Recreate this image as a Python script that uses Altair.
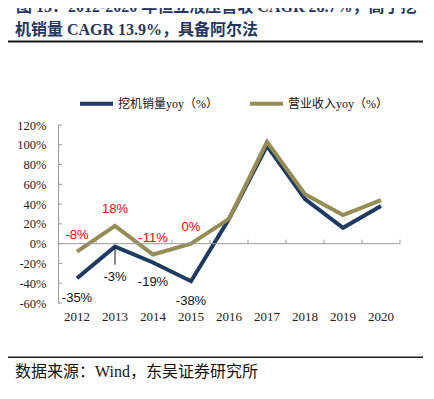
import altair as alt
import pandas as pd
import json

# ---- data ----
years = ["2012", "2013", "2014", "2015", "2016", "2017", "2018", "2019", "2020"]
excavator_yoy = [-35, -3, -19, -38, 25, 99, 45, 16, 38]
revenue_yoy = [-8, 18, -11, 0, 25, 103, 50, 29, 44]
series_names = ["挖机销量yoy（%）", "营业收入yoy（%）"]
series_colors = ["#1f3a60", "#948b55"]
y_ticks = [-60, -40, -20, 0, 20, 40, 60, 80, 100, 120]
labeled_years = ["2012", "2013", "2014", "2015"]
title_lines = ["图 13：2012-2020 年恒立液压营收 CAGR 28.7%，高于挖",
               "机销量 CAGR 13.9%，具备阿尔法"]
source_text = "数据来源：Wind，东吴证券研究所"

SERIF = "Liberation Serif, Noto Sans CJK SC"
SANS = "Liberation Sans, Arial, sans-serif"
W, H = 342, 178

df = pd.DataFrame({
    "year": years * 2,
    "series": [series_names[0]] * len(years) + [series_names[1]] * len(years),
    "value": excavator_yoy + revenue_yoy,
})
df["label"] = df["value"].astype(int).astype(str) + "%"

xscale = alt.Scale(type="band", paddingInner=0, paddingOuter=0, domain=years)
yscale = alt.Scale(domain=[-60, 120], nice=False, zero=False)

x_axis = alt.Axis(title=None, labelAngle=0, ticks=False, domain=False,
                  labelFont=SERIF, labelFontSize=13, labelColor="#222",
                  labelPadding=7)
y_axis = alt.Axis(title=None, values=y_ticks, labelExpr="datum.value + '%'",
                  ticks=False, grid=False, domainColor="#999",
                  labelFont=SERIF, labelFontSize=12.5, labelColor="#222",
                  labelPadding=12)

x_enc = alt.X("year:O", bandPosition=0.5, scale=xscale, axis=x_axis)
y_enc = alt.Y("value:Q", scale=yscale, axis=y_axis)

base = alt.Chart(df)

tick_df = pd.DataFrame({"year": years, "value": [0] * len(years)})
ytick_df = pd.DataFrame({"value": y_ticks})

zero_line = alt.Chart(tick_df.head(1)).mark_rule(color="#999", strokeWidth=1).encode(
    x=alt.value(0), x2=alt.value(W), y=y_enc)

x_ticks = alt.Chart(tick_df).mark_rule(color="#999", strokeWidth=1, y2Offset=-4).encode(
    x=alt.X("year:O", bandPosition=1, scale=xscale, axis=x_axis),
    y=y_enc, y2="value:Q")

y_tick_marks = alt.Chart(ytick_df).mark_rule(color="#999", strokeWidth=1).encode(
    x=alt.value(0), x2=alt.value(4), y=y_enc)

lines = base.mark_line(strokeWidth=4, strokeJoin="miter").encode(
    x=x_enc, y=y_enc,
    color=alt.Color("series:N",
                    scale=alt.Scale(domain=series_names, range=series_colors),
                    legend=alt.Legend(title=None, orient="none", direction="horizontal",
                                      legendX=20, legendY=-40, padding=0,
                                      symbolType="stroke", symbolStrokeWidth=4,
                                      symbolSize=1089, columnPadding=24, labelOffset=3,
                                      labelFont=SERIF, labelFontSize=12,
                                      labelColor="#111", labelLimit=300)),
)

def sel(series, yrs):
    return f"datum.series == '{series}' && indexof({json.dumps(yrs)}, datum.year) >= 0"

rev_labels = base.transform_filter(sel(series_names[1], labeled_years)).mark_text(
    color="#ff0000", font=SANS, fontSize=13, dy=-17).encode(
    x=x_enc, y=y_enc, text="label:N")

exc_labels = base.transform_filter(sel(series_names[0], ["2012", "2014", "2015"])).mark_text(
    color="#111", font=SANS, fontSize=13, dy=20).encode(
    x=x_enc, y=y_enc, text="label:N")

exc_label_2013 = base.transform_filter(sel(series_names[0], ["2013"])).mark_text(
    color="#111", font=SANS, fontSize=13, dy=30).encode(
    x=x_enc, y=y_enc, text="label:N")

leader_2013 = base.transform_filter(sel(series_names[0], ["2013"])).mark_rule(
    color="#111", strokeWidth=1, y2Offset=18).encode(
    x=x_enc, y=y_enc, y2="value:Q")

def text_layer(txt, x, y, size, weight, color):
    return alt.Chart(pd.DataFrame({"t": [txt]})).mark_text(
        align="left", baseline="alphabetic", font=SERIF, fontSize=size,
        fontWeight=weight, color=color).encode(
        x=alt.value(x), y=alt.value(y), text="t:N")

title1 = text_layer(title_lines[0], -42, -113, 16, "bold", "#1f3763")
title2 = text_layer(title_lines[1], -43, -90.5, 16, "bold", "#1f3763")
source = text_layer(source_text, -43, 252, 16, "normal", "#111")

one = pd.DataFrame({"a": [0]})
top_rule = alt.Chart(one).mark_rule(color="#1a1a1a", strokeWidth=2).encode(
    x=alt.value(-52), x2=alt.value(365), y=alt.value(-83.5))
bottom_rule = alt.Chart(one).mark_rule(color="#1a1a1a", strokeWidth=1.5).encode(
    x=alt.value(-52), x2=alt.value(365), y=alt.value(232.3))

chart = alt.layer(
    lines, zero_line, x_ticks, y_tick_marks, rev_labels, exc_labels,
    leader_2013, exc_label_2013, title1, title2, source, top_rule, bottom_rule,
).properties(
    width=W, height=H,
    autosize=alt.AutoSizeParams(type="none"),
    padding={"left": 50, "top": 117, "right": 26, "bottom": 88},
    background="white",
).configure_view(stroke=None)

chart.save("out.html", embed_options={"renderer": "svg", "actions": False})
